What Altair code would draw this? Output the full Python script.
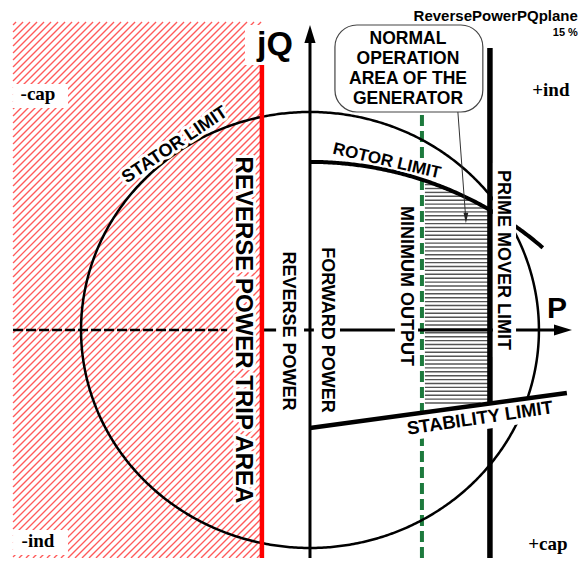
import numpy as np
import pandas as pd
import altair as alt

# ---------------- values (per-unit P / Q plane) ----------------
P_DOMAIN = [-1.319, 1.175]
Q_DOMAIN = [-1.046, 1.477]

STATOR_RADIUS = 1.0
ROTOR_CENTER_Q = -0.739
ROTOR_RADIUS = 1.51
ROTOR_P_RANGE = [0.0, 1.017]
STABILITY_P = [0.0, 1.122]
STABILITY_Q = [-0.450, -0.289]
PRIME_MOVER_P = 0.786
PRIME_MOVER_Q = [-1.046, 1.294]
MIN_OUTPUT_P = 0.489
MIN_OUTPUT_Q = [-1.046, 0.986]
TRIP_P = [-1.297, -0.210]          # reverse power trip area (hatched)
TRIP_Q = [-1.046, 1.413]
TRIP_LINE_Q = [-1.046, 1.216]
P_AXIS_NEG = [-1.297, -0.362]
P_AXIS_POS = [-0.210, 1.10]
Q_AXIS = [-1.046, 1.33]
NORMAL_HATCH_P = [0.502, 0.786]
NORMAL_HATCH_Q = [-0.335, 0.70]

CALLOUT_LINES = ["NORMAL", "OPERATION", "AREA OF THE", "GENERATOR"]
CALLOUT_Q = [1.333, 1.242, 1.151, 1.060]

# ---------------- layout helpers ----------------
W, H = 571, 550
KX = W / (P_DOMAIN[1] - P_DOMAIN[0])
KY = H / (Q_DOMAIN[1] - Q_DOMAIN[0])
SANS = "Liberation Sans"
SERIF = "Liberation Serif"

xs = alt.Scale(domain=P_DOMAIN, nice=False, zero=False)
ys = alt.Scale(domain=Q_DOMAIN, nice=False, zero=False)


def X(f="p"):
    return alt.X(f"{f}:Q", scale=xs, axis=None)


def Y(f="q"):
    return alt.Y(f"{f}:Q", scale=ys, axis=None)


def segs(rows, **mk):
    df = pd.DataFrame(rows, columns=["p", "q", "p2", "q2"])
    return alt.Chart(df).mark_rule(**mk).encode(
        x=X("p"), y=Y("q"), x2=alt.X2("p2:Q"), y2=alt.Y2("q2:Q"))


def rects(rows, **mk):
    df = pd.DataFrame(rows, columns=["p", "p2", "q", "q2"])
    return alt.Chart(df).mark_rect(**mk).encode(
        x=X("p"), x2=alt.X2("p2:Q"), y=Y("q"), y2=alt.Y2("q2:Q"))


def curve(p, q, **mk):
    df = pd.DataFrame({"p": p, "q": q, "i": np.arange(len(p))})
    return alt.Chart(df).mark_line(**mk).encode(x=X(), y=Y(), order="i:Q")


def arrow(p, q, shape, size, color="black"):
    df = pd.DataFrame({"p": [p], "q": [q]})
    return alt.Chart(df).mark_point(shape=shape, size=size, filled=True,
                                    opacity=1, color=color, strokeWidth=0).encode(x=X(), y=Y())


def label(text, p, q, size, angle=0, font=SANS, weight="bold", align="center", halo=0):
    df = pd.DataFrame({"p": [p], "q": [q], "t": [text]})
    base = alt.Chart(df).encode(x=X(), y=Y(), text="t:N")
    out = []
    kw = dict(font=font, fontSize=size, fontWeight=weight, angle=angle, align=align, baseline="middle")
    if halo:
        out.append(base.mark_text(color="white", stroke="white", strokeWidth=halo,
                                  strokeJoin="round", **kw))
    out.append(base.mark_text(color="black", **kw))
    return out


def to_px(p, q):
    return (p - P_DOMAIN[0]) * KX, (Q_DOMAIN[1] - q) * KY


def from_px(x, y):
    return x / KX + P_DOMAIN[0], Q_DOMAIN[1] - y / KY


layers = []

# --- red diagonal hatch of the reverse power trip area ---
x0, y0 = to_px(TRIP_P[0], TRIP_Q[1])
x1, y1 = to_px(TRIP_P[1], TRIP_Q[0])
hatch = []
for c in np.arange(x0 + y0 + 3, x1 + y1, 7.0):
    xa, xb = max(x0, c - y1), min(x1, c - y0)
    if xb - xa < 0.5:
        continue
    pa, qa = from_px(xa, c - xa)
    pb, qb = from_px(xb, c - xb)
    hatch.append([pa, qa, pb, qb])
layers.append(segs(hatch, color="#ff5a5a", strokeWidth=1.3))

# white label boxes over the hatch (jQ, -cap, -ind)
layers.append(rects([[-0.284, -0.044, 1.216, 1.399],
                     [-1.297, -1.057, 1.018, 1.128],
                     [-1.297, -1.057, -0.917, -1.032]], color="white"))

# dashed negative P axis
layers.append(segs([[P_AXIS_NEG[0], 0, P_AXIS_NEG[1], 0]], color="black",
                   strokeWidth=2.5, strokeDash=[10, 3]))

# minimum output (green dashed)
layers.append(segs([[MIN_OUTPUT_P, MIN_OUTPUT_Q[0], MIN_OUTPUT_P, MIN_OUTPUT_Q[1]]],
                   color="#1d7a3d", strokeWidth=4, strokeDash=[11, 5]))

# normal operation area hatch (horizontal)
a = STABILITY_Q[0]
b = (STABILITY_Q[1] - STABILITY_Q[0]) / (STABILITY_P[1] - STABILITY_P[0])
nh = []
for q in np.arange(NORMAL_HATCH_Q[0], NORMAL_HATCH_Q[1], 3.9 / KY):
    pe = NORMAL_HATCH_P[1]
    d = ROTOR_RADIUS ** 2 - (q - ROTOR_CENTER_Q) ** 2
    if d > 0:
        pe = min(pe, np.sqrt(d))
    pe = min(pe, (q - a - 0.008) / b)
    if pe > NORMAL_HATCH_P[0] + 0.01:
        nh.append([NORMAL_HATCH_P[0], q, pe, q])
layers.append(segs(nh, color="#555555", strokeWidth=1.4))

# stator limit circle
t = np.linspace(0, 2 * np.pi, 721)
layers.append(curve(STATOR_RADIUS * np.cos(t), STATOR_RADIUS * np.sin(t),
                    color="black", strokeWidth=2.5))

# rotor limit arc
pr = np.linspace(ROTOR_P_RANGE[0], ROTOR_P_RANGE[1], 150)
layers.append(curve(pr, ROTOR_CENTER_Q + np.sqrt(ROTOR_RADIUS ** 2 - pr ** 2),
                    color="black", strokeWidth=4))

# axes and prime mover limit
layers.append(segs([[P_AXIS_POS[0], 0, P_AXIS_POS[1], 0]], color="black", strokeWidth=3))
layers.append(segs([[0, Q_AXIS[0], 0, Q_AXIS[1]]], color="black", strokeWidth=3))
layers.append(segs([[PRIME_MOVER_P, PRIME_MOVER_Q[0], PRIME_MOVER_P, PRIME_MOVER_Q[1]]],
                   color="black", strokeWidth=5.5))

# white backgrounds of the vertical labels
layers.append(rects([[-0.148, -0.026, 0.390, -0.394],
                     [0.017, 0.131, 0.394, -0.399],
                     [0.371, 0.472, 0.596, -0.193],
                     [0.799, 0.900, 0.766, -0.124]], color="white"))

# white band under "STABILITY LIMIT"
layers.append(segs([[0.406, -0.456, 1.079, -0.351]], color="white", strokeWidth=24))

# stability limit
layers.append(segs([[STABILITY_P[0], STABILITY_Q[0], STABILITY_P[1], STABILITY_Q[1]]],
                   color="black", strokeWidth=4.5))

# reverse power trip line (red)
layers.append(segs([[TRIP_P[1], TRIP_LINE_Q[0], TRIP_P[1], TRIP_LINE_Q[1]]],
                   color="#ff0000", strokeWidth=4.5))

# arrow heads
layers.append(arrow(0, 1.358, "M0,-1L0.62,1L-0.62,1Z", 324))
layers.append(arrow(1.105, 0, "M1,0L-1,-0.62L-1,0.62Z", 324))

# callout box for normal operation area
layers.append(rects([[0.109, 0.755, 1.399, 1.0]], fill="white", stroke="#444444",
                    strokeWidth=1.2, cornerRadius=22))
layers.append(segs([[0.646, 1.0, 0.679, 0.53]], color="#333333", strokeWidth=1))
layers.append(arrow(0.681, 0.514, "M0,1L-0.45,-1L0.45,-1Z", 110, color="#222222"))

cdf = pd.DataFrame({"p": [0.428] * len(CALLOUT_LINES), "q": CALLOUT_Q, "t": CALLOUT_LINES})
layers.append(alt.Chart(cdf).mark_text(font=SANS, fontSize=17.5, fontWeight="bold",
                                       baseline="middle", align="center", color="black")
              .encode(x=X(), y=Y(), text="t:N"))

# labels
layers += label("REVERSE POWER TRIP AREA", -0.293, 0.0, 24, angle=90, halo=6)
layers += label("REVERSE POWER", -0.096, -0.005, 18, angle=90)
layers += label("FORWARD POWER", 0.074, 0.0, 18, angle=90)
layers += label("MINIMUM OUTPUT", 0.419, 0.202, 18, angle=90)
layers += label("PRIME MOVER LIMIT", 0.843, 0.321, 18, angle=90)
layers += label("STATOR LIMIT", -0.590, 0.848, 18, angle=326, halo=6)
layers += label("ROTOR LIMIT", 0.336, 0.775, 17, angle=13, halo=4)
layers += label("STABILITY LIMIT", 0.742, -0.404, 18.5, angle=351.5)
layers += label("jQ", -0.153, 1.307, 34)
layers += label("P", 1.079, 0.096, 30)
layers += label("-cap", -1.188, 1.083, 19, font=SERIF)
layers += label("+ind", 1.052, 1.101, 19, font=SERIF)
layers += label("-ind", -1.188, -0.968, 19, font=SERIF)
layers += label("+cap", 1.039, -0.982, 19, font=SERIF)
layers += label("ReversePowerPQplane", 1.170, 1.440, 15, align="right")
layers += label("15 %", 1.170, 1.362, 11, align="right")

chart = (alt.layer(*layers)
         .properties(width=W, height=H, padding=0, autosize="none", background="white")
         .configure_view(stroke=None))

chart.save("out.html", embed_options={"renderer": "svg", "actions": False})
